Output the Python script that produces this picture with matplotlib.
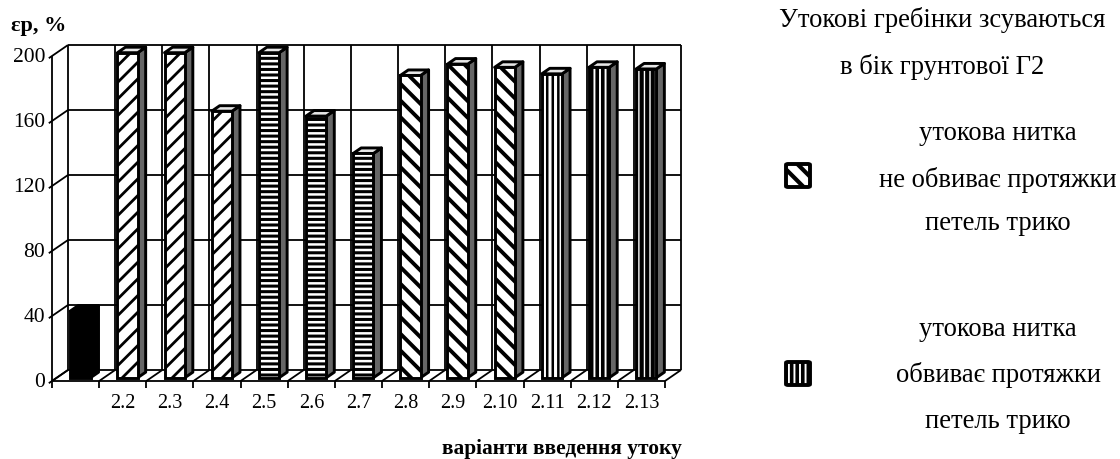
import matplotlib
matplotlib.use("Agg")
import matplotlib as mpl
import matplotlib.pyplot as plt
from matplotlib.patches import Polygon, FancyBboxPatch

# ---- data -------------------------------------------------------------
categories = ["", "2.2", "2.3", "2.4", "2.5", "2.6", "2.7",
              "2.8", "2.9", "2.10", "2.11", "2.12", "2.13"]
values = [41, 200, 200, 164, 200, 161, 138, 186, 193, 191, 187, 191, 190]
yticks = [0, 40, 80, 120, 160, 200]
hatches = ["", "//", "//", "//", "---", "---", "---",
           "\\\\", "\\\\", "\\\\", "|||", "|||", "|||"]
hatch_widths = [1, 2.0, 2.0, 2.0, 2.2, 2.2, 2.2,
                2.8, 2.8, 2.8, 1.8, 2.6, 3.0]
face_colors = ["black"] + ["white"] * 12

y_label = "εр, %"
x_label = "варіанти введення утоку"
title_lines = ["Утокові гребінки зсуваються", "в бік грунтової Г2"]
legend_a = ["утокова нитка", "не обвиває протяжки", "петель трико"]
legend_b = ["утокова нитка", "обвиває протяжки", "петель трико"]

plt.rcParams["font.family"] = ["Liberation Serif", "DejaVu Serif"]

W, H = 1120, 459
fig = plt.figure(figsize=(W / 100, H / 100), dpi=100)
# axes = front plane of the 3-D box (floor front edge / left wall front)
ax = fig.add_axes([52 / W, 1 - 381 / H, 613 / W, 325 / H])
ax.set_xlim(0, len(categories))
ax.set_ylim(0, 200)
ax.axis("off")

# depth vector of the box, in data units
kx = 16 / (613 / len(categories))
ky = 11 / (325 / 200)

n = len(categories)
ymax = yticks[-1]
glw = 1.3


def line(xs, ys, lw=glw, z=1):
    ax.plot(xs, ys, color="black", lw=lw, clip_on=False,
            solid_capstyle="butt", zorder=z)


# back wall: horizontal grid lines and vertical category lines
for v in yticks:
    line([kx, n + kx], [v + ky, v + ky])
    # left wall lines incl. outward tick
    line([-0.2 * kx, kx], [v - 0.2 * ky, v + ky])
    ax.text(-0.2 * kx - 0.08, v - 0.1 * ky, str(v), ha="right",
            va="center", fontsize=15.5, clip_on=False)
for k in range(n + 1):
    line([k + kx, k + kx], [ky, ymax + ky])
    # floor lines
    line([k, k + kx], [0, ky])
    # x ticks
    line([k, k], [0, -4.2])

# front floor edge and left axis
line([0, n], [0, 0])
line([0, 0], [0, ymax])

# tick labels
for i, c in enumerate(categories):
    ax.text(i + 0.5, -14, c, ha="center", va="center", fontsize=14.5,
            clip_on=False)

# ---- bars ---------------------------------------------------------------
bw = 0.43
z0 = 0.3
dz = 0.5
centers = [i + 0.5 + z0 * kx for i in range(n)]
base = z0 * ky
blw = 2.1

for i, (cx, v) in enumerate(zip(centers, values)):
    xl, xr = cx - bw / 2, cx + bw / 2
    top = base + v
    with mpl.rc_context({"hatch.linewidth": hatch_widths[i]}):
        bars = ax.bar([cx], [v], width=bw, bottom=base,
                      color=face_colors[i], edgecolor="black",
                      hatch=hatches[i] or None, linewidth=blw,
                      zorder=3, clip_on=False)
    for b in bars:
        if hasattr(b, "set_hatch_linewidth"):
            b.set_hatch_linewidth(hatch_widths[i])
    side_col = "black" if i == 0 else "0.4"
    top_col = "black" if i == 0 else "0.9"
    side = Polygon([[xr, base], [xr + dz * kx, base + dz * ky],
                    [xr + dz * kx, top + dz * ky], [xr, top]],
                   closed=True, facecolor=side_col, edgecolor="black",
                   lw=blw, zorder=2.5, clip_on=False, joinstyle="round")
    topf = Polygon([[xl, top], [xr, top], [xr + dz * kx, top + dz * ky],
                    [xl + dz * kx, top + dz * ky]],
                   closed=True, facecolor=top_col, edgecolor="black",
                   lw=blw, zorder=2.5, clip_on=False, joinstyle="round")
    ax.add_patch(side)
    ax.add_patch(topf)

# ---- axis titles --------------------------------------------------------
fig.text(11 / W, 1 - 26 / H, y_label, fontsize=16, fontweight="bold",
         ha="left", va="center")
fig.text(562 / W, 1 - 449 / H, x_label, fontsize=15.4, fontweight="bold",
         ha="center", va="center")

# ---- right-hand legend --------------------------------------------------
fs = 19.2
fig.text(942 / W, 1 - 20 / H, title_lines[0], fontsize=fs, ha="center",
         va="center")
fig.text(942 / W, 1 - 67 / H, title_lines[1], fontsize=fs, ha="center",
         va="center")
for txt, yy in zip(legend_a, [133, 180, 223]):
    fig.text(998 / W, 1 - yy / H, txt, fontsize=fs, ha="center",
             va="center")
for txt, yy in zip(legend_b, [330, 375, 422]):
    fig.text(998 / W, 1 - yy / H, txt, fontsize=fs, ha="center",
             va="center")

for (y0, hatch, hw) in [(162, "\\\\", 3.0), (360, "|||", 2.6)]:
    with mpl.rc_context({"hatch.linewidth": hw}):
        sq = FancyBboxPatch((786 / W, 1 - (y0 + 25) / H), 24 / W, 23 / H,
                            boxstyle="round,pad=0.0,rounding_size=0.002",
                            transform=fig.transFigure, facecolor="white",
                            edgecolor="black", lw=2.8, hatch=hatch)
    if hasattr(sq, "set_hatch_linewidth"):
        sq.set_hatch_linewidth(hw)
    fig.patches.append(sq)

fig.savefig("out.png", dpi=100)
